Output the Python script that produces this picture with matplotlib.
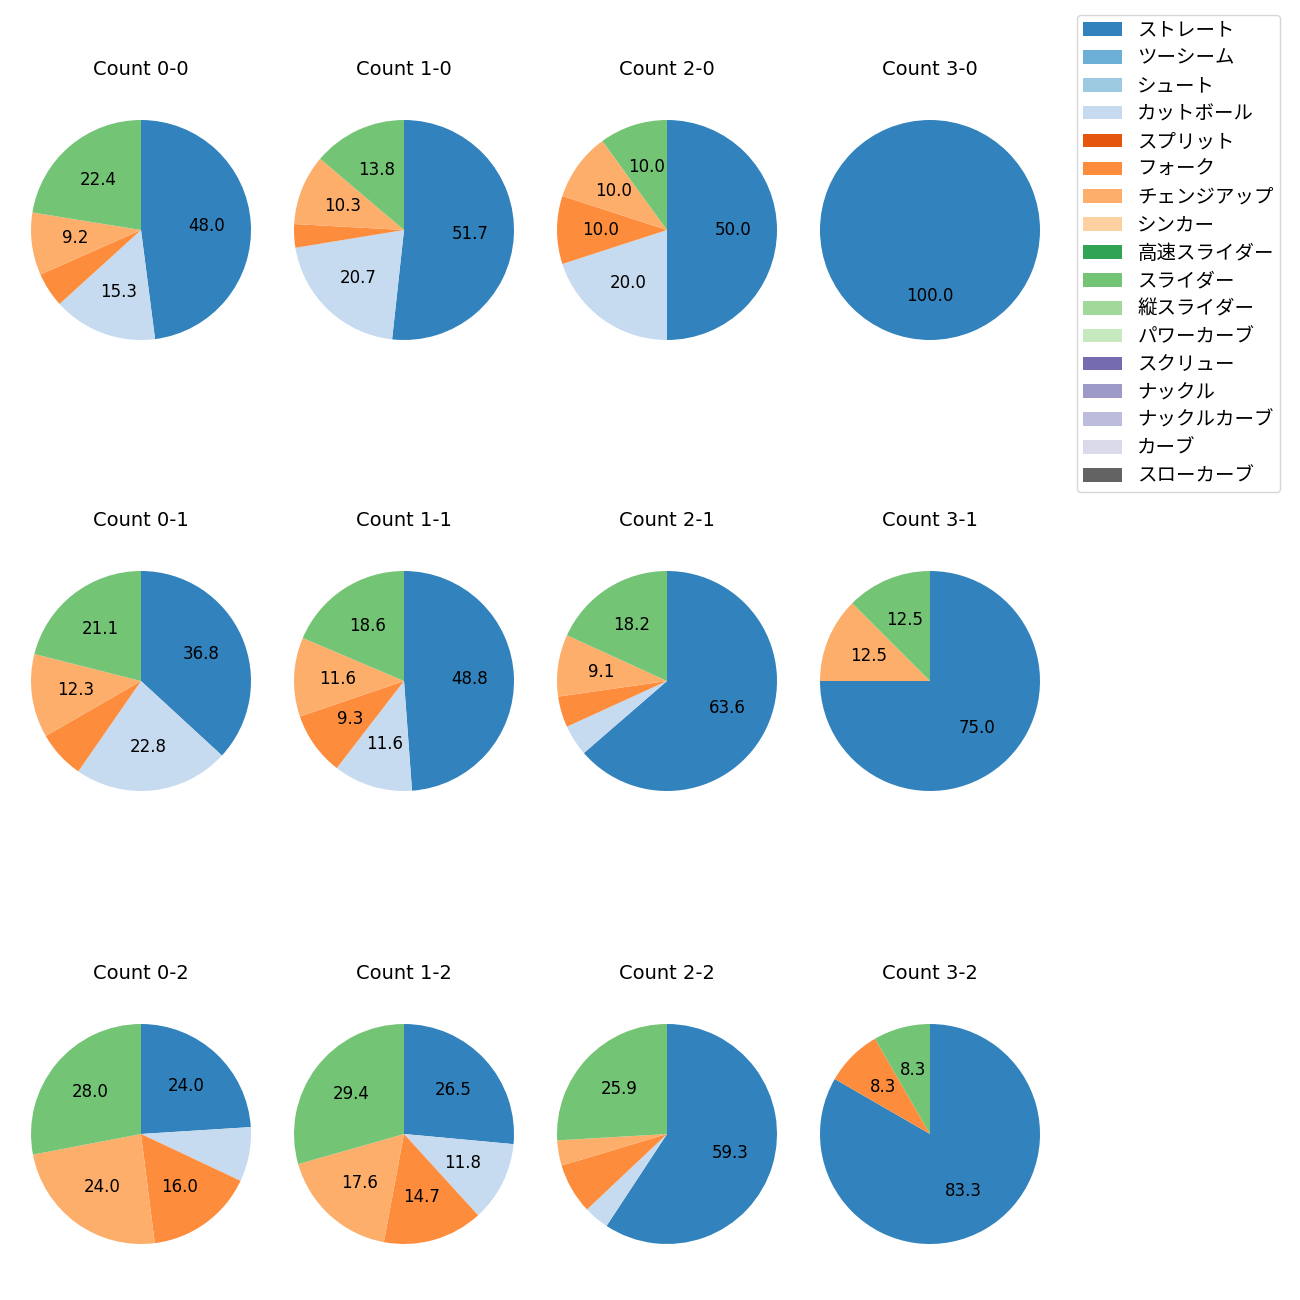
import matplotlib
matplotlib.use('Agg')
import matplotlib.pyplot as plt
from matplotlib.patches import Patch

plt.rcParams['font.family'] = ['DejaVu Sans', 'Noto Sans CJK JP']

pitch_types = ['ストレート', 'ツーシーム', 'シュート', 'カットボール', 'スプリット',
               'フォーク', 'チェンジアップ', 'シンカー', '高速スライダー', 'スライダー',
               '縦スライダー', 'パワーカーブ', 'スクリュー', 'ナックル', 'ナックルカーブ',
               'カーブ', 'スローカーブ']
colors = plt.get_cmap('tab20c').colors[:17]

# pitch counts per ball-strike count, for the pitch types thrown
used = ['ストレート', 'カットボール', 'フォーク', 'チェンジアップ', 'スライダー']
titles = ['Count 0-0', 'Count 1-0', 'Count 2-0', 'Count 3-0',
          'Count 0-1', 'Count 1-1', 'Count 2-1', 'Count 3-1',
          'Count 0-2', 'Count 1-2', 'Count 2-2', 'Count 3-2']
counts = [
    [47, 15, 5, 9, 22],
    [15, 6, 1, 3, 4],
    [5, 2, 1, 1, 1],
    [1, 0, 0, 0, 0],
    [21, 13, 4, 7, 12],
    [21, 5, 4, 5, 8],
    [14, 1, 1, 2, 4],
    [6, 0, 0, 1, 1],
    [6, 2, 4, 6, 7],
    [9, 4, 5, 6, 10],
    [16, 1, 2, 1, 7],
    [10, 0, 1, 0, 1],
]

W = H = 1300
fig = plt.figure(figsize=(13, 13), dpi=100)

col_x = [141, 404, 667, 930]
row_y = [230, 681, 1134]
box = 275

for i, (title, vals) in enumerate(zip(titles, counts)):
    r, c = divmod(i, 4)
    cx, cy = col_x[c], row_y[r]
    ax = fig.add_axes([(cx - box / 2) / W, 1 - (cy + box / 2) / H, box / W, box / H])
    sizes, cols = [], []
    for name, v in zip(used, vals):
        if v > 0:
            sizes.append(v)
            cols.append(colors[pitch_types.index(name)])
    ax.pie(sizes, colors=cols, startangle=90, counterclock=False,
           autopct=lambda p: '%.1f' % p if p >= 8.1 else '',
           textprops={'fontsize': 12})
    ax.set_title(title, fontsize=14, pad=12.3)

handles = [Patch(facecolor=col, label=name) for name, col in zip(pitch_types, colors)]
fig.legend(handles=handles, loc='upper left', bbox_to_anchor=(1077 / W, 1 - 15 / H),
           fontsize=14, labelspacing=0.456, borderpad=0.3, borderaxespad=0)

fig.savefig('out.png')
